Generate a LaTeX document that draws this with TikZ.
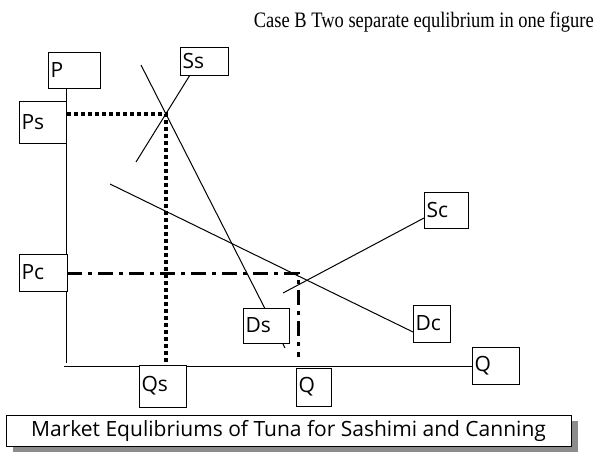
\documentclass[tikz,border=0pt]{standalone}
\usepackage{fontspec}
\setmainfont{Liberation Serif}
\newfontfamily\lblfont{Open Sans}
\usepackage{tikz}
\usetikzlibrary{shadows}
\tikzset{
  lbl/.style={draw, thick, fill=white, inner xsep=2.5pt, inner ysep=0pt, align=left,
              font=\lblfont\fontsize{21}{21}\selectfont},
  curve/.style={line width=1pt},
  dotline/.style={line width=3.5pt, dash pattern=on 4pt off 3pt},
  dashdot/.style={line width=3pt, dash pattern=on 15pt off 6pt on 4pt off 6pt},
  capbox/.style={draw, thick, fill=white, minimum width=565pt, minimum height=31pt,
                 inner sep=0pt, font=\lblfont\fontsize{21}{21}\selectfont,
                 general shadow={fill=black!45, shadow xshift=7pt, shadow yshift=-6pt}},
}

\begin{document}
\begin{tikzpicture}[x=1pt, y=-1pt]
    \useasboundingbox (0,0) rectangle (597,452);
    % title
    \node[anchor=east, inner sep=0pt] (title) at (594,22) {\scalebox{0.88}[1.05]{\fontsize{21}{21}\selectfont Case B Two separate equlibrium in one figure}};
    % points on the curves
    \coordinate (ytop) at (66,88);
    \coordinate (o) at (66,366);
    \coordinate (es) at (166,114);
    \coordinate (ec) at (298,273);
    \coordinate (ds0) at (141,65);
    \coordinate (ds1) at (285,348);
    \coordinate (ss0) at (136,162);
    \coordinate (ss1) at (190,75);
    \coordinate (dc0) at (110,184);
    \coordinate (dc1) at (413,332);
    \coordinate (sc0) at (283,293);
    \coordinate (sc1) at (424,218);
    % axes
    \draw[curve] (ytop) -- (66,363);
    \draw[curve] (64,366) -- (472,366);
    % demand and supply
    \draw[curve] (ds0) -- (ds1);
    \draw[curve] (ss0) -- (ss1);
    \draw[curve] (dc0) -- (dc1);
    \draw[curve] (sc0) -- (sc1);
    % equilibrium guides
    \draw[dotline] (67,114) -- (es) -- (166,362);
    \draw[dashdot] (67,273) -- (ec) -- (298,357);
    % labels
    \node[lbl, minimum width=52pt, minimum height=36pt, text width=47pt] (p) at (74,70) {P};
    \node[lbl, minimum width=48pt, minimum height=28pt, text width=43pt] (ss) at (204,61) {Ss};
    \node[lbl, minimum width=47pt, minimum height=42pt, text width=42pt] (ps) at (42.5,122) {Ps};
    \node[lbl, minimum width=48pt, minimum height=37pt, text width=43pt] (pc) at (43,272.5) {Pc};
    \node[lbl, minimum width=44pt, minimum height=36pt, text width=39pt] (sc) at (446,210) {Sc};
    \node[lbl, minimum width=46pt, minimum height=35pt, text width=41pt] (ds) at (266,325.5) {Ds};
    \node[lbl, minimum width=37pt, minimum height=37pt, text width=32pt] (dc) at (431.5,323.5) {Dc};
    \node[lbl, minimum width=47pt, minimum height=42pt, text width=42pt] (qs) at (162.5,386) {Qs};
    \node[lbl, minimum width=35pt, minimum height=38pt, text width=30pt] (qm) at (313.5,387) {Q};
    \node[lbl, minimum width=47pt, minimum height=37pt, text width=42pt] (q) at (495.5,365.5) {Q};
    % caption
    \node[capbox] (cap) at (288.5,430.5) {Market Equlibriums of Tuna for Sashimi and Canning};
\end{tikzpicture}
\end{document}
